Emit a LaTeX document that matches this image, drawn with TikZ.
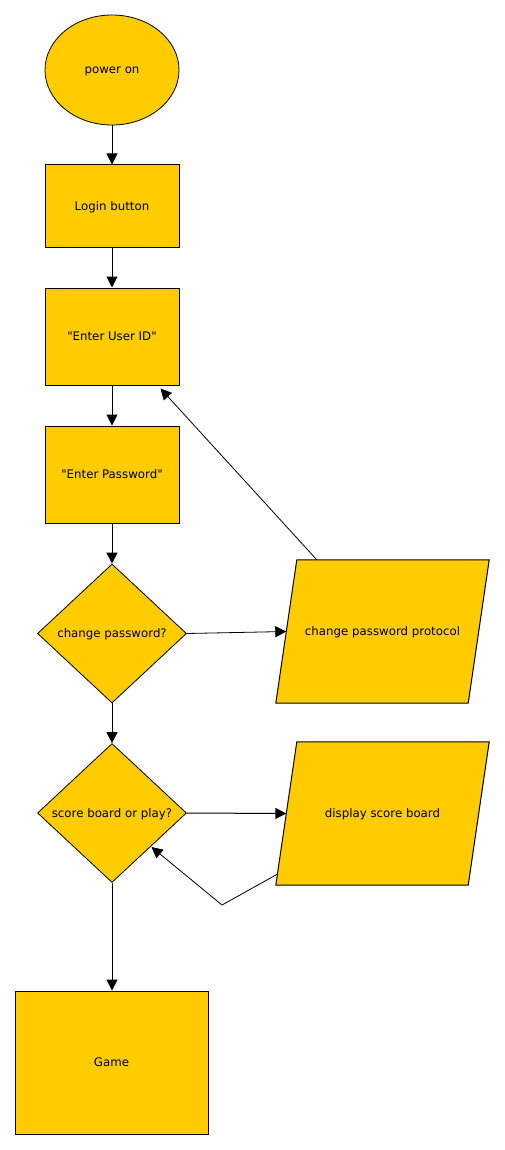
\documentclass[tikz,border=0pt]{standalone}
\usepackage{fontspec}
\setmainfont{DejaVu Sans}
\usetikzlibrary{shapes.geometric,arrows.meta,backgrounds}
\definecolor{boxfill}{RGB}{255,204,0}
\begin{document}
\begin{tikzpicture}[x=1pt,y=-1pt,
  every node/.style={font=\fontsize{11.8}{14}\selectfont, inner sep=0pt, text depth=0pt},
  base/.style={draw=black, fill=boxfill, line width=1pt},
  boxnode/.style={base, rectangle, minimum width=134pt},
  startnode/.style={base, ellipse, minimum width=134pt, minimum height=110pt, line width=0.8pt},
  decision/.style={base, diamond, minimum width=149pt, minimum height=139pt, aspect=1.07, line width=0.8pt},
  iobody/.style={rectangle, minimum width=213pt, minimum height=143pt},
  conn/.style={draw=black, line width=1pt, -{Triangle[length=11pt,width=11pt]}},
  thinconn/.style={conn, line width=0.8pt}]
\useasboundingbox (0,0) rectangle (505,1150);
\node[startnode] (power) at (112,70) {power on};
\node[boxnode, minimum height=83pt] (login) at (112,206.5) {Login button};
\node[boxnode, minimum height=97pt] (uid) at (112,336.5) {\textquotedbl Enter User ID\textquotedbl};
\node[boxnode, minimum height=97pt] (pwd) at (112,474.5) {\textquotedbl Enter Password\textquotedbl};
\node[decision] (chg) at (112,633.5) {change password?};
\node[iobody] (proto) at (382.5,631.5) {change password protocol};
\node[decision] (score) at (112,813) {score board or play?};
\node[iobody] (disp) at (382.5,813.5) {display score board};
\node[boxnode, minimum width=193pt, minimum height=143pt] (game) at (111.5,1062.5) {Game};

\begin{scope}[on background layer]
\foreach \p in {proto,disp}{
  \draw[base] ([xshift=21pt]\p.north west) -- (\p.north east) -- ([xshift=-21pt]\p.south east) -- (\p.south west) -- cycle;
}
\end{scope}

\coordinate (protoout) at ([xshift=41pt]proto.north west);
\coordinate (protoin) at ([xshift=10.5pt]proto.west);
\coordinate (uidin) at ([xshift=-19pt,yshift=-3pt]uid.south east);
\coordinate (dispin) at ([xshift=10.5pt]disp.west);
\coordinate (dispout) at (277.6,874);
\coordinate (bend) at (222,905);
\coordinate (scorein) at (151.5,847);

\draw[conn] (power) -- (login);
\draw[conn] (login) -- (uid);
\draw[conn] (uid) -- (pwd);
\draw[conn] (pwd) -- (chg);
\draw[thinconn] (chg.east) -- (protoin);
\draw[thinconn] (protoout) -- (uidin);
\draw[conn] (chg) -- (score);
\draw[conn] (score.east) -- (dispin);
\draw[thinconn] (dispout) -- (bend) -- (scorein);
\draw[conn] (score.south) -- (score.south |- game.north);
\end{tikzpicture}
\end{document}
